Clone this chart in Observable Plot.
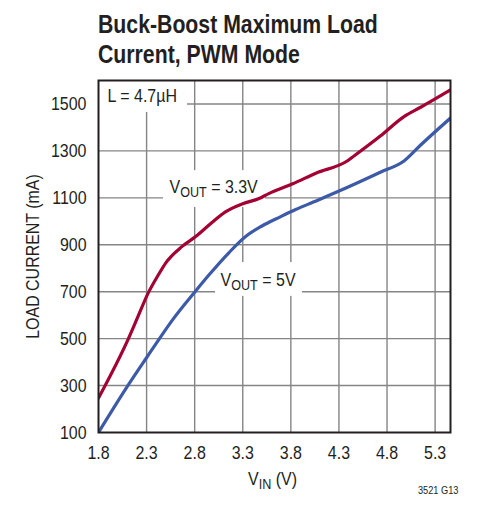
<!DOCTYPE html>
<html><head><meta charset="utf-8">
<script src="https://cdn.jsdelivr.net/npm/d3@7"></script>
<script src="https://cdn.jsdelivr.net/npm/@observablehq/plot@0.6"></script>
<style>
body{margin:0;background:#fff;}
#wrap{position:relative;width:481px;height:508px;}
#title{position:absolute;left:98px;top:10px;font:bold 25px/29.5px "Liberation Sans",Arial,sans-serif;color:#231f20;white-space:nowrap;transform:scaleX(0.85);transform-origin:0 0;z-index:2;}
</style></head><body>
<div id="wrap"><div id="title">Buck-Boost Maximum Load<br>Current, PWM Mode</div></div>
<script>
// V_OUT = 3.3V curve
const vin33  = [1.8, 2.11, 2.20, 2.32, 2.42, 2.50, 2.67, 2.81, 2.98, 3.12, 3.30, 3.47, 3.57, 3.82, 4.06, 4.39, 4.46, 4.73, 4.98, 5.15, 5.46];
const load33 = [247, 499, 584, 697, 770, 823, 893, 935, 995, 1040, 1075, 1097, 1118, 1160, 1205, 1258, 1279, 1363, 1447, 1486, 1560];
// V_OUT = 5V curve
const vin5  = [1.8, 2.09, 2.31, 2.45, 2.57, 2.81, 2.95, 3.16, 3.33, 3.50, 3.69, 3.85, 4.04, 4.39, 4.73, 4.98, 5.15, 5.46];
const load5 = [100, 290, 425, 510, 580, 703, 772, 868, 935, 980, 1019, 1050, 1083, 1145, 1209, 1258, 1325, 1440];

const xTicks = [1.8, 2.3, 2.8, 3.3, 3.8, 4.3, 4.8, 5.3];
const yTicks = [100, 300, 500, 700, 900, 1100, 1300, 1500];

const labelText = ["L = 4.7µH", "VOUT = 3.3V", "VOUT = 5V"];
const labelX = [1.894, 2.538, 3.069];
const labelY = [1536, 1146, 749];
const boxX1 = [1.8, 2.476, 3.017], boxX2 = [2.726, 3.537, 3.921];
const boxY1 = [1464, 1059, 680], boxY2 = [1600, 1216, 824];

const s33 = vin33.map((v, i) => ({v, c: load33[i]}));
const s5 = vin5.map((v, i) => ({v, c: load5[i]}));
const labels = labelText.map((t, i) => ({t, x: labelX[i], y: labelY[i]}));
const boxes = boxX1.map((x1, i) => ({x1, x2: boxX2[i], y1: boxY1[i], y2: boxY2[i]}));

const FONT = '"Liberation Sans",Arial,sans-serif';
const ink = "#231f20";

const plot = Plot.plot({
  width: 481, height: 508,
  marginLeft: 98, marginRight: 31, marginTop: 80, marginBottom: 76,
  style: {fontFamily: FONT, fontSize: "19px", color: ink, background: "transparent"},
  x: {domain: [1.8, 5.46]},
  y: {domain: [100, 1600]},
  marks: [
    Plot.ruleX(xTicks.slice(1), {stroke: "#858585", strokeWidth: 1.4}),
    Plot.ruleY(yTicks.slice(1), {stroke: "#858585", strokeWidth: 1.4}),
    Plot.rect(boxes, {x1: "x1", x2: "x2", y1: "y1", y2: "y2", fill: "white"}),
    Plot.line(s5, {x: "v", y: "c", stroke: "#3c5aa8", strokeWidth: 3.2, curve: "monotone-x", clip: true}),
    Plot.line(s33, {x: "v", y: "c", stroke: "#a30033", strokeWidth: 3.2, curve: "monotone-x", clip: true}),
    Plot.text(labels, {x: "x", y: "y", text: "t", textAnchor: "start", lineAnchor: "middle", fill: ink, fontSize: 19}),
    Plot.frame({stroke: ink, strokeWidth: 2}),
    Plot.axisX(xTicks, {tickSize: 0, tickPadding: 13, label: null, tickFormat: d => d.toFixed(1)}),
    Plot.axisY(yTicks, {tickSize: 0, tickPadding: 12, label: null, tickFormat: d => String(d)}),
    Plot.text(["LOAD CURRENT (mA)"], {frameAnchor: "left", textAnchor: "middle", rotate: -90, dx: -66, lineAnchor: "middle", fill: ink, fontSize: 19}),
    Plot.text(["VIN (V)"], {frameAnchor: "bottom", textAnchor: "middle", dx: -2, dy: 46, lineAnchor: "middle", fill: ink, fontSize: 19}),
    Plot.text(["3521 G13"], {frameAnchor: "bottom-right", textAnchor: "end", dx: 8, dy: 58, lineAnchor: "middle", fill: ink, fontSize: 11})
  ]
});

// subscripts
d3.select(plot).selectAll("text").each(function() {
  const t = this.textContent;
  let sub = null;
  if (t.startsWith("VOUT")) sub = "OUT";
  else if (t.startsWith("VIN")) sub = "IN";
  if (!sub) return;
  const rest = t.slice(1 + sub.length);
  const el = d3.select(this);
  el.text("");
  el.append("tspan").text("V");
  el.append("tspan").attr("dy", 4).attr("font-size", 15).text(sub);
  el.append("tspan").attr("dy", -4).text(rest);
});

document.getElementById("wrap").prepend(plot);
plot.style.position = "absolute";
plot.style.left = "0";
plot.style.top = "0";

// condensed look (the reference uses a condensed face)
d3.select(plot).selectAll("text").each(function() {
  const len = this.getComputedTextLength();
  if (len > 0) {
    this.setAttribute("textLength", (len * 0.84).toFixed(1));
    this.setAttribute("lengthAdjust", "spacingAndGlyphs");
  }
});
</script>
</body></html>
